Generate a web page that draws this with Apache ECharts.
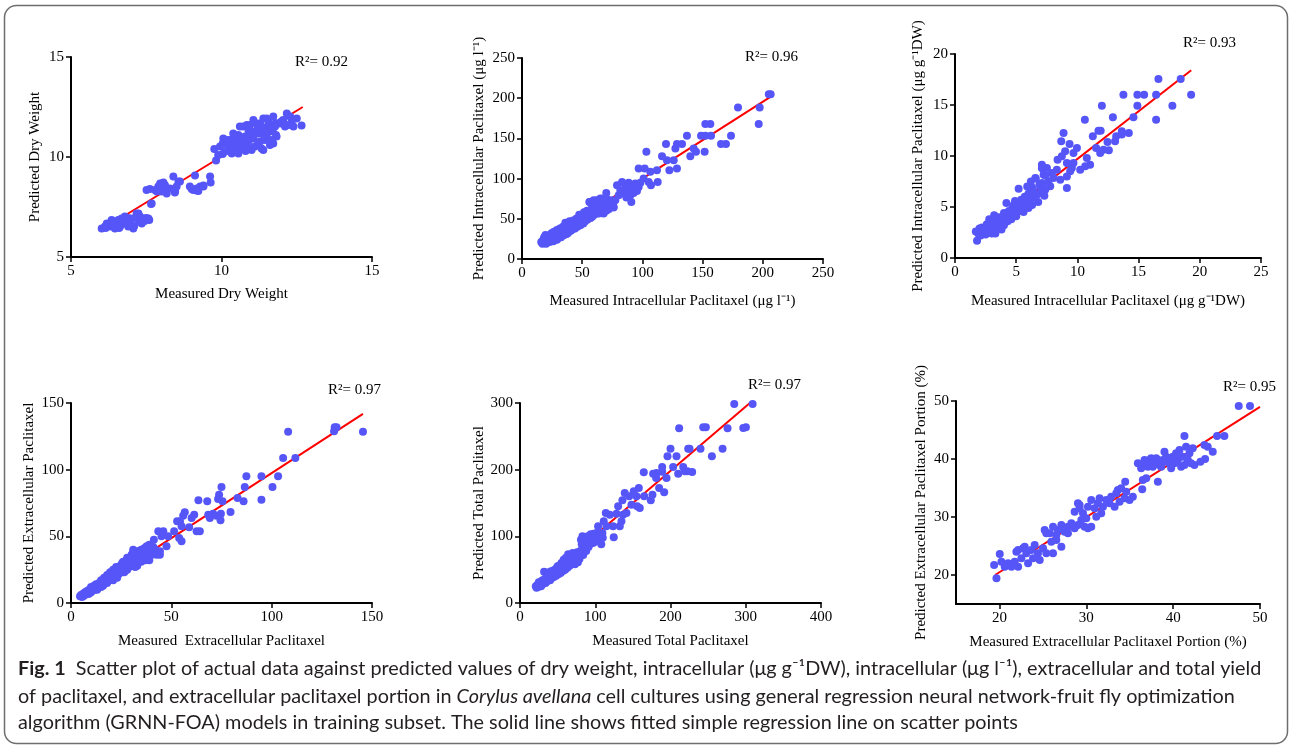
<!DOCTYPE html>
<html>
<head>
<meta charset="utf-8">
<script src="https://cdn.jsdelivr.net/npm/echarts@6/dist/echarts.min.js"></script>
<style>
html,body{margin:0;padding:0;background:#fff;}
#c{width:1290px;height:746px;}
</style>
</head>
<body>
<div id="c"></div>
<script>
// ---------------- DATA ----------------
const dryWeightPts = [
[6.02,6.43],[6.19,6.68],[6.30,6.52],[6.41,6.77],[6.46,6.43],[6.57,6.85],[6.68,6.93],[6.74,6.68],[6.85,6.77],[6.90,6.52],[7.02,6.93],[7.07,6.43],[7.18,7.18],[7.24,6.85],[7.35,6.68],[7.40,6.93],[7.57,6.93],[7.29,7.02],[6.35,6.85],[6.13,6.52],[6.63,6.52],[6.96,6.68],[6.79,7.02],[6.25,6.6],[6.5,6.6],[6.6,6.45],[6.9,6.95],[7.1,6.55],[7.45,6.8],[7.5,6.95],[6.15,6.45],[6.4,6.55],[6.55,6.7],[7.6,6.85],[7.66,7.65],[7.24,7.18],
[7.51,8.35],[7.62,8.40],[7.79,8.35],[7.90,8.52],[7.96,8.68],[8.01,8.27],[8.07,8.43],[8.12,8.60],[8.18,8.18],[8.40,9.02],[8.46,8.27],[8.51,8.52],[8.57,8.77],[7.68,7.68],[7.85,8.27],[8.29,8.43],[8.07,8.72],[8.62,8.77],[8.45,8.22],
[8.95,8.52],[9.06,8.35],[9.18,8.43],[9.29,8.52],[9.40,8.57],[9.12,9.07],[9.62,9.02],[9.64,8.73],[9.01,8.40],[9.23,8.30],[9.17,8.32],[9.4,8.52],
[9.76,10.4],[9.82,9.82],[9.89,10.1],[9.95,10.52],[10.04,10.68],[10.12,10.27],[10.17,10.85],[10.28,10.43],[10.34,10.18],[10.39,10.93],[10.45,10.6],[10.5,10.35],[10.56,11.1],[10.61,10.68],[10.67,10.43],[10.72,11.52],[10.78,11.02],[10.84,10.77],[10.89,10.52],[10.95,11.6],[11.0,11.27],[11.06,10.93],[11.11,10.52],[11.17,11.68],[11.22,11.18],[11.28,10.77],[11.33,10.43],[11.39,11.93],[11.44,11.43],[11.5,11.02],[11.56,11.77],[11.61,11.27],[11.67,10.85],[11.72,10.68],[11.78,11.52],[11.81,11.1],[11.5,11.93],[11.06,11.85],[10.84,11.6],[10.61,11.52],[10.39,11.18],[10.28,10.85],[10.06,10.93],[10.56,10.18],[11.0,10.35],[11.39,10.35],[11.61,10.6],[11.22,10.68],[10.89,11.1],[10.72,10.52],[11.72,12.02],[11.83,11.02],[11.28,11.68],[11.44,10.85],[10.2,10.6],[10.4,10.7],[10.5,10.9],[10.7,10.9],[10.9,10.8],[11.0,11.0],[11.3,11.3],[11.5,11.5],[11.6,11.6],[11.2,11.4],[10.9,11.3],[10.3,10.6],[10.8,10.3],[11.4,11.1],[11.7,11.3],[11.8,11.7],[10.04,10.15],
[11.94,11.68],[12.05,11.85],[12.17,12.18],[12.22,11.6],[12.33,11.77],[12.39,11.52],[12.5,11.93],[12.66,11.58],[12.28,12.02],[12.11,11.52],[11.99,11.77]
];
const intraLPts = [
[205,205],[206.5,205],[197.4,188.5],[179.4,188.5],[196.6,167.8],[152.3,167.8],[156.4,167.8],[137,153.2],[148.7,153.2],[152.3,153.2],[157,153.2],[173.6,153.2],[165.3,142.9],[169.4,142.9],[119.6,142.9],[128.7,142.9],[132.9,142.9],[127.4,137.5],[142.6,137.5],[144.5,133.3],[151.7,133.3],[139.8,127.9],[116.3,127.9],[103.3,133.3],[120.4,122.9],[126,122.9],[122.4,110.5],[128.7,112.5],[112.1,110.5],[96.9,112.5],[101.9,112.5],[106.6,108.4],[101,100.1],[105.2,95.9],[107.1,91.8],[112.7,95.9],[90.8,71],[86.7,76.4],[70,82.2],
[78.9,91.8],[83.1,95.9],[85.8,89.7],[88.6,94.7],[91.4,87.6],[94.1,93.9],[96.9,89.7],[81.7,85.5],[87.2,83.5],[92.7,82.2],[98.3,94.7],[90,79.3],[84.4,81.4],[95.5,84.7],[80.3,79.3],
[56.2,71],[59.5,73.1],[62.3,68.9],[65.1,75.2],[66.4,66.9],[69.2,71],[70.6,62.7],[73.4,68.9],[76.1,64.8],[77.5,73.1],[60.9,62.7],[63.7,56.5],[58.1,60.6],[67.8,56.5],[54,56.5],[74.7,73.1],
[16,21],[17,19],[17.5,23],[18,20],[18.5,27],[19,22],[19.5,30],[20,19],[20.5,24],[21,21],[21.5,26],[22,23],[22.5,29],[23,21],[23.5,25],[24,27],[24.5,32],[25,23],[25.5,28],[26,25],[26.5,34],[27,29],[27.5,24],[28,31],[28.5,27],[29,36],[29.5,30],[30,26],[30.5,33],[31,29],[31.5,38],[32,31],[32.5,27],[33,35],[33.5,32],[34,40],[34.5,30],[35,36],[35.5,33],[36,45],[36.5,35],[37,31],[37.5,39],[38,36],[38.5,42],[39,34],[39.5,47],[40,38],[40.5,35],[41,43],[41.5,40],[42,37],[42.5,48],[43,42],[43.5,39],[44,45],[44.5,41],[45,50],[45.5,44],[46,40],[46.5,47],[47,43],[47.5,55],[48,46],[48.5,42],[49,50],[49.5,45],[50,53],[50.5,48],[51,44],[51.5,58],[52,50],[52.5,47],[53,54],[53.5,51],[54,60],[54.5,49],[55,56],[55.5,52],[56,71],[56.5,55],[57,51],[57.5,62],[58,57],[58.5,53],[59,65],[59.5,60],[60,55],[61,63],[61.5,58],[62,73],[62.5,61],[63,57],[64,66],[64.5,62],[65,59],[66,70],[66.5,64],[67,60],[68,68],[69,63],[70,60],[71,66],[72,62],[73,70],[74,65],[75,68],[76,64],[69,72],[63,70],[60,68],[66,75],[71,74],
[18,25],[21,29],[24,30],[27,33],[30,35],[33,38],[26,22],[29,24],[32,29],[35,30],[38,32],[41,36],[44,38]
];
const intraGPts = [
[19.29,16.0],[18.44,17.55],[16.62,17.55],[16.43,16.0],[16.43,13.56],[17.76,14.93],[15.45,16.0],[14.9,16.0],[14.9,14.93],[14.58,13.79],[13.76,16.0],[14.2,12.25],[13.63,12.42],[13.63,12.1],[13.17,11.93],[13.08,11.44],[12.9,13.79],[12.46,11.37],[12.57,10.56],[12.0,14.93],[11.72,12.48],[11.9,12.48],[11.26,11.93],[10.61,13.56],[11.53,10.78],[11.86,10.29],[12.13,10.62],[11.04,9.15],[10.77,9.8],[10.23,8.66],[10.64,8.99],[9.68,10.29],[9.96,10.78],[8.87,12.25],[9.36,11.18],[8.68,11.44],[9.0,10.46],[8.73,9.97],[9.14,9.31],[9.41,8.5],[9.14,8.0],[9.14,6.86],[8.38,9.64],[8.32,8.66],[9.68,9.31],[9.55,8.82],
[7.1,9.15],[7.51,8.82],[7.24,8.17],[7.92,8.33],[8.05,7.84],[7.64,7.52],[7.1,7.35],[6.96,7.03],[6.56,7.84],[7.78,7.03],[8.6,7.68],[7.37,6.7],
[1.7,2.6],[1.8,1.7],[1.9,2.4],[2.0,2.9],[2.1,2.2],[2.2,3.0],[2.3,2.5],[2.4,2.8],[2.5,2.3],[2.6,3.3],[2.7,2.6],[2.8,3.8],[2.9,2.9],[3.0,2.4],[3.0,3.4],[3.1,2.7],[3.2,4.2],[3.3,3.1],[3.3,2.4],[3.4,3.6],[3.5,2.9],[3.6,4.0],[3.7,3.3],[3.8,2.8],[3.9,3.7],[4.0,4.4],[4.0,3.2],[4.1,3.9],[4.2,5.4],[4.3,3.6],[4.4,4.6],[4.5,4.1],[4.6,3.8],[4.7,5.0],[4.8,4.4],[4.9,5.6],[5.0,4.8],[5.0,4.1],[5.1,5.3],[5.2,6.8],[5.3,4.6],[5.4,5.7],[5.5,5.1],[5.6,4.5],[5.7,6.0],[5.8,5.4],[5.9,7.0],[6.0,4.9],[6.0,6.3],[6.1,5.7],[6.2,7.5],[6.3,5.2],[6.4,6.6],[6.5,5.9],[6.6,7.8],[6.7,6.2],[6.8,5.5],[6.9,7.2],[7.0,6.4],[7.1,8.8],[7.2,6.9],[7.3,6.1],[7.4,8.1],[4.4,4.0],[3.6,3.4],[2.6,2.9],[5.6,5.3],[6.3,6.9],[4.8,5.2],[5.9,5.8]
];
const extraPts = [
[145.5,128.5],[131.4,131.75],[132.3,131.75],[131.1,128.75],[108.2,128.5],[111.8,108.75],[105.7,108.75],[103.2,95],[94.9,95],[87.4,95],[100.4,87],[86.6,87],[94.9,77.5],[86,76.25],[83,78.75],[79.5,68.25],[75,87],[73.8,81.25],[73.3,78],[75.5,76.25],[67.9,76.25],[63.5,77],[74.7,67],[72.5,65.5],[74.5,62],[69.2,63.75],[68.4,66.25],[70.8,67],[64.2,53.75],[62.6,53.75],[61.4,66.25],[60.1,63.75],[56.7,68],[55.9,65.5],[54.3,61.25],[52.9,61.25],[58.9,56.75],[55.1,57.5],[55.1,46.25],[53.9,48.75],[51.4,53.75],[48.4,50],[46,53.75],[43.5,53.75],[45.1,50],[47.6,42.5],[44.3,38.75],[42.6,36.25],[44.3,36.25],[41.3,47.5],[37.7,42.5],[39,43.75],[37.3,32.5],[33.5,33.75],[31,40],[30.2,36.25],
[4.5,5],[5,6],[5.5,4.5],[6,7],[6.5,5.5],[7,8],[7.5,6.5],[8,9],[8.5,7],[9,10],[9.5,8],[10,12],[10.5,9],[11,11],[11.5,13],[12,10],[12.5,14],[13,12],[13.5,11],[14,15],[14.5,13],[15,17],[15.5,14],[16,16],[16.5,19],[17,15],[17.5,18],[18,21],[18.5,17],[19,20],[19.5,23],[20,18],[20.5,22],[21,25],[21.5,19],[22,23],[22.5,27],[23,21],[23.5,25],[24,22],[24.5,28],[25,24],[25.5,30],[26,26],[26.5,23],[27,29],[27.5,32],[28,25],[28.5,30],[29,27],[29.5,34],[30,28],[30.5,31],[31,38],[31.5,29],[32,33],[32.5,36],[33,30],[33.5,39],[34,32],[34.5,35],[35,31],[35.5,37],[36,34],[36.5,41],[37,35],[38,38],[39,32],[40,36],[41,42],[42,40],[23,19],[18,15],[13,10],[28,34],[35,40],[26,31],[21,17],[16,13],[9,7],[33,28],
[10,8],[12,13],[15,12],[18,18],[20,21],[22,20],[24,26],[27,24],[30,33],[32,27],[34,37],[37,32],[39,40],[42,37]
];
const totalPts = [
[284.7,298.5],[309.1,298.5],[296.7,262.5],[300.2,263.5],[275.8,262],[243.5,263.5],[247,263.5],[211.5,262],[239.9,231.5],[223.5,231.5],[225.3,231.5],[269.2,231.5],[255,220],[208,220],[196,220],[200,231.5],[203.5,204],[216.9,204],[219.1,197.5],[222.6,197.5],[228.8,196.5],[210.2,194],[188.9,204],[188.9,197],[194.7,187.5],[191.6,166],[184.9,172.5],[180.9,187.5],[181.4,195],[176.9,194],[164.5,196],[176,162.5],[173.8,154],[165,160],[157.9,172.5],[154.8,160],[151.2,167.5],[145,160],[139.2,165],[155.7,145],[159.2,142.5],[148.1,147.5],[136.1,154],[130.4,145],[137,132.5],[134.8,122.5],[128.2,134],[123.7,115],[124.6,98.5],[132.6,115],[119.3,132.5],[114,135],[111.3,122.5],[114.9,115],[103.8,115],[101.6,105],[109.5,105],[141.5,135],
[21,25],[22,23],[23,27],[24,24],[25,28],[26,26],[27,30],[28,25],[29,33],[30,28],[31,31],[32,47],[33,36],[34,30],[35,38],[36,33],[37,41],[38,36],[39,44],[40,34],[41,40],[42,37],[43,46],[44,42],[45,39],[46,50],[47,44],[48,41],[49,53],[50,47],[51,43],[52,56],[53,49],[54,45],[55,60],[56,52],[57,48],[58,65],[59,55],[60,50],[61,68],[62,58],[63,53],[64,73],[65,62],[66,56],[67,70],[68,65],[69,59],[70,75],[71,63],[72,68],[73,58],[74,72],[75,65],[76,76],[77,61],[78,70],[79,66],[80,78],[81,95],[82,88],[83,100],[84,72],[85,92],[86,85],[87,97],[88,78],[89,90],[90,100],[91,84],[92,95],[93,88],[94,103],[95,93],[96,98],[97,90],[98,104],[99,95],[100,92],[102,100],[104,96],[106,102],[108,88],[110,98],[45,47],[55,52],[65,70],[35,32],[60,63],[50,55],
[25,31],[30,34],[35,35],[40,44],[45,44],[50,50],[55,48],[60,58],[65,58],[70,68],[75,72],[38,46],[42,48]
];
const portionPts = [
[47.55,49.14],[48.85,49.14],[45.06,43.97],[45.9,43.97],[44.56,41.26],[43.98,42.13],[43.6,42.41],[43.68,40.0],[43.14,39.54],[41.3,43.97],[39.0,41.26],[38.24,36.09],[36.44,34.77],[36.51,36.38],[36.9,36.67],[34.48,36.09],
[35.94,39.25],[36.32,38.39],[36.7,39.83],[37.09,38.68],[37.47,40.11],[37.85,39.25],[38.24,39.83],[38.62,38.68],[39.0,39.54],[39.39,40.11],[39.77,38.39],[40.15,39.25],[40.54,39.83],[40.73,41.55],[40.92,38.68],[41.11,40.4],[41.3,38.97],[41.49,42.13],[41.69,39.83],[41.88,40.98],[42.07,39.25],[42.26,41.84],[42.45,38.97],[40.34,40.98],[39.96,40.4],[39.58,39.25],[39.2,40.4],[38.81,39.83],[38.43,38.97],[38.05,40.11],[37.66,38.68],[37.28,39.83],[36.9,39.25],[36.51,38.97],
[28.66,30.92],[29.23,32.07],[29.62,30.63],[30.19,31.78],[30.57,32.93],[30.96,31.49],[31.34,32.36],[31.53,33.22],[31.92,31.78],[32.3,32.93],[32.68,32.36],[32.87,33.51],[33.26,31.78],[33.45,34.08],[33.83,32.64],[34.02,34.94],[34.41,33.22],[34.6,34.37],[34.98,32.93],[35.36,33.51],[31.72,30.63],[31.15,30.06],[33.64,34.66],[29.04,32.36],[29.23,31.49],[30.19,28.05],[30.57,28.33],[30.0,29.77],
[25.79,27.18],[26.17,28.33],[26.74,27.76],[27.13,28.62],[27.51,27.47],[27.89,28.33],[28.28,28.91],[28.66,28.05],[29.04,28.62],[29.43,29.48],[29.81,28.33],[26.55,26.9],[27.13,24.89],[26.55,26.03],[25.98,25.75],[25.21,27.76],[25.4,27.18],[27.89,27.18],
[19.39,21.72],[19.66,19.43],[20.04,23.62],[20.23,22.3],[20.61,21.44],[21.0,22.01],[21.38,21.44],[21.76,22.3],[21.95,24.02],[22.15,21.44],[22.53,22.87],[22.72,24.6],[23.1,23.74],[23.3,22.01],[23.68,24.31],[23.87,22.87],[24.06,25.17],[24.44,23.74],[24.64,22.59],[25.02,24.6],[25.4,23.74],[26.17,23.74],[22.91,24.89],[22.15,24.31]
];
// fitted regression line end points
const dryWeightFit = [[6.0,6.35],[12.7,12.5]];
const intraLFit = [[16,19.8],[205.7,201]];
const intraGFit = [[1.7,1.95],[19.3,18.4]];
const extraFit = [[4.5,4.2],[145.5,141.8]];
const totalFit = [[21,25.5],[305.5,300]];
const portionFit = [[19.5,20],[50,49]];
// R² labels
const r2Labels = ['R\u00b2= 0.92','R\u00b2= 0.96','R\u00b2= 0.93','R\u00b2= 0.97','R\u00b2= 0.97','R\u00b2= 0.95'];
// axis titles
const xTitles = ['Measured Dry Weight','Measured Intracellular Paclitaxel (\u03bcg l\u207b\u00b9)','Measured Intracellular Paclitaxel (\u03bcg g\u207b\u00b9DW)','Measured  Extracellular Paclitaxel','Measured Total Paclitaxel','Measured Extracellular Paclitaxel Portion (%)'];
const yTitles = ['Predicted Dry Weight','Predicted Intracellular Paclitaxel (\u03bcg l\u207b\u00b9)','Predicted Intracellular Paclitaxel (\u03bcg g\u207b\u00b9DW)','Predicted Extracellular Paclitaxel','Predicted Total Paclitaxel','Predicted Extracellular Paclitaxel Portion (%)'];
// axis ranges [min,max,interval]
const xRanges = [[5,15,5],[0,250,50],[0,25,5],[0,150,50],[0,400,100],[15,50,5]];
const yRanges = [[5,15,5],[0,250,50],[0,20,5],[0,150,50],[0,300,100],[15,50,5]];
const portionTicks = [20,30,40,50];
// caption
const captionLines = [
  '{b|Fig. 1}  Scatter plot of actual data against predicted values of dry weight, intracellular (\u03bcg g\u207b\u00b9DW), intracellular (\u03bcg l\u207b\u00b9), extracellular and total yield',
  'of paclitaxel, and extracellular paclitaxel portion in {i|Corylus avellana} cell cultures using general regression neural network-fruit fly optimization',
  'algorithm (GRNN-FOA) models in training subset. The solid line shows fitted simple regression line on scatter points'
];

// ---------------- LAYOUT ----------------
const allPts = [dryWeightPts,intraLPts,intraGPts,extraPts,totalPts,portionPts];
const allFits = [dryWeightFit,intraLFit,intraGFit,extraFit,totalFit,portionFit];
const grids = [
  {left:71,top:57,width:301,height:200},
  {left:522,top:58,width:301,height:201},
  {left:955,top:54,width:306,height:204},
  {left:71,top:403,width:301,height:200},
  {left:520,top:403,width:301,height:200},
  {left:956,top:401,width:304,height:203}
];
const xNameGap = [30,35,36,31,31,31];
const yNameGap = [28,35,29,34,33,27];
const r2Pos = [[295,62],[745,57],[1183,43],[328,390],[748,385],[1223,387]];

const SERIF = '"Liberation Serif","Times New Roman",serif';
const FS = 15;
const DOT = '#5656F8';

function axisCommon(){
  return {
    type:'value',
    axisLine:{show:true,onZero:false,lineStyle:{color:'#000',width:2}},
    axisTick:{show:true,inside:false,length:5,lineStyle:{color:'#000',width:1.5}},
    splitLine:{show:false},
    axisLabel:{color:'#000',fontFamily:SERIF,fontSize:FS,margin:7},
    nameLocation:'middle',
    nameTextStyle:{color:'#000',fontFamily:SERIF,fontSize:FS}
  };
}

const xAxes=[], yAxes=[], series=[];
for(let i=0;i<6;i++){
  const xa = axisCommon(), ya = axisCommon();
  xa.gridIndex=i; ya.gridIndex=i;
  xa.min=xRanges[i][0]; xa.max=xRanges[i][1]; xa.interval=xRanges[i][2];
  ya.min=yRanges[i][0]; ya.max=yRanges[i][1]; ya.interval=yRanges[i][2];
  xa.name=xTitles[i]; ya.name=yTitles[i];
  xa.nameGap=xNameGap[i]; ya.nameGap=yNameGap[i];
  if(i===5){
    xa.axisTick.customValues=portionTicks; xa.axisLabel.customValues=portionTicks;
    ya.axisTick.customValues=portionTicks; ya.axisLabel.customValues=portionTicks;
  }
  xAxes.push(xa); yAxes.push(ya);
  series.push({type:'line',xAxisIndex:i,yAxisIndex:i,data:allFits[i],showSymbol:false,symbol:'none',
    lineStyle:{color:'#FF0000',width:2},z:2,silent:true});
  series.push({type:'scatter',xAxisIndex:i,yAxisIndex:i,data:allPts[i],symbolSize:8,
    itemStyle:{color:DOT,opacity:1},z:3,silent:true});
}

// caption font fitting
const CAP_FAMILY = 'Lato, "Noto Sans", sans-serif';
const ctx = document.createElement('canvas').getContext('2d');
ctx.font = 'bold 100px ' + CAP_FAMILY;
let wB = ctx.measureText('Fig. 1').width;
ctx.font = '100px ' + CAP_FAMILY;
let wR = ctx.measureText(captionLines[0].replace('{b|Fig. 1}','')).width;
const capSize = 100 * 1244 / (wB + wR);

const graphic = [
  {type:'rect',shape:{x:4.5,y:5.5,width:1283,height:738,r:12},style:{fill:'none',stroke:'#6e6e6e',lineWidth:1.5},z:0}
];
for(let i=0;i<6;i++){
  graphic.push({type:'text',x:r2Pos[i][0],y:r2Pos[i][1],style:{text:r2Labels[i],fontFamily:SERIF,fontSize:FS,fill:'#000',verticalAlign:'middle',align:'left'}});
}
const capY=[669,697,723];
for(let i=0;i<3;i++){
  graphic.push({type:'text',x:18,y:capY[i],style:{text:captionLines[i],fontFamily:CAP_FAMILY,fontSize:capSize,fill:'#231f20',verticalAlign:'middle',align:'left',
    rich:{b:{fontWeight:'bold',fontFamily:CAP_FAMILY,fontSize:capSize,fill:'#231f20'},i:{fontStyle:'italic',fontFamily:CAP_FAMILY,fontSize:capSize,fill:'#231f20'}}}});
}

const chart = echarts.init(document.getElementById('c'));
chart.setOption({
  animation:false,
  backgroundColor:'#fff',
  grid:grids.map(g=>Object.assign({containLabel:false},g)),
  xAxis:xAxes, yAxis:yAxes, series:series, graphic:graphic
});
</script>
</body>
</html>
